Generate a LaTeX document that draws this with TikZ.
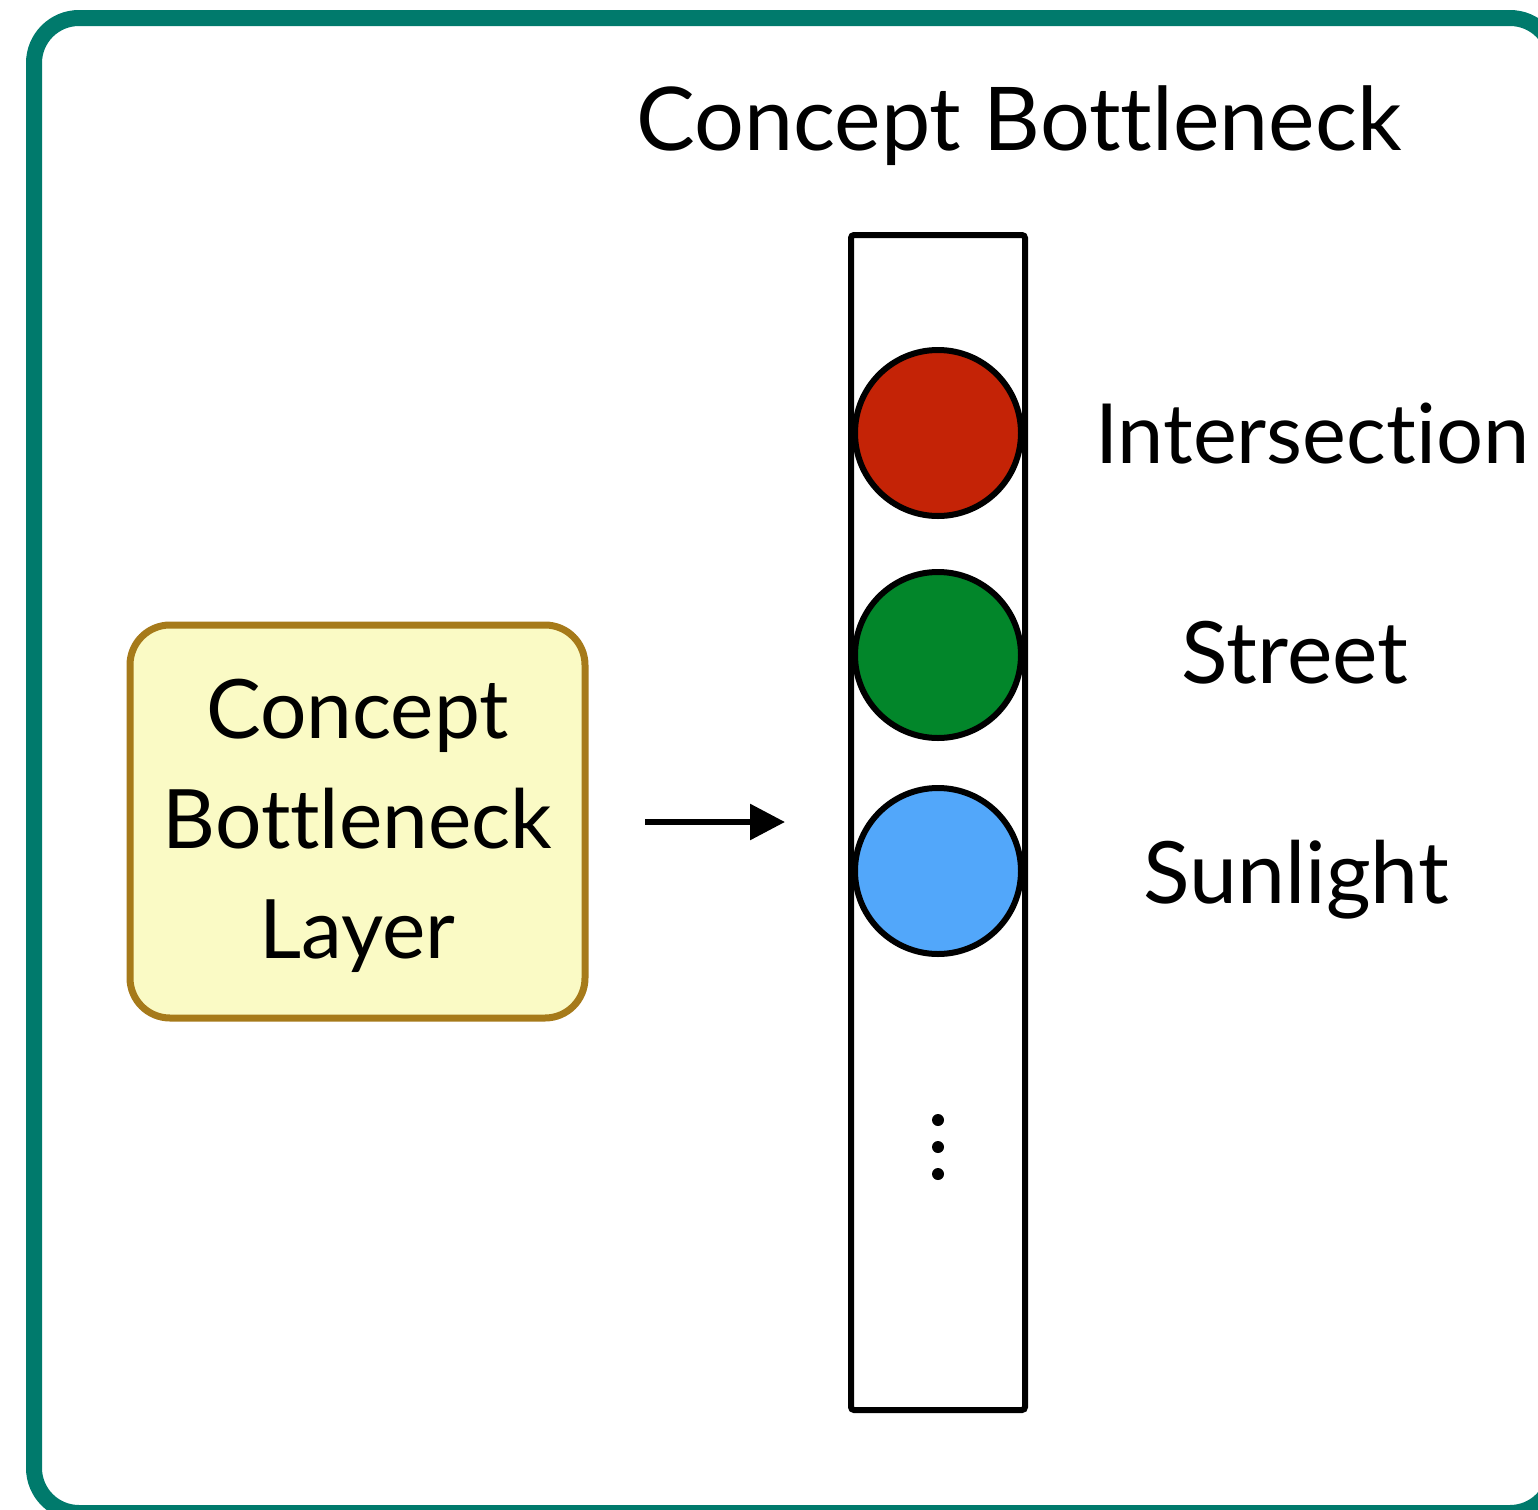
\documentclass[tikz,border=0pt]{standalone}
\usepackage{fontspec}
\setmainfont{Lato}[Ligatures=NoCommon]
\usetikzlibrary{arrows.meta}
\definecolor{frameteal}{RGB}{0,122,108}
\definecolor{boxgold}{RGB}{166,122,26}
\definecolor{boxfill}{RGB}{250,250,197}
\definecolor{cred}{RGB}{196,35,6}
\definecolor{cgreen}{RGB}{2,134,42}
\definecolor{cblue}{RGB}{82,167,250}
\tikzset{
  concept/.style={circle, draw=black, line width=3pt, minimum size=83pt, inner sep=0pt},
  clabel/.style={font=\fontsize{43}{52}\selectfont, anchor=base},
  dotmark/.style={circle, fill=black, minimum size=6pt, inner sep=0pt},
}
\begin{document}
\begin{tikzpicture}[x=0.5pt, y=-0.5pt]
\useasboundingbox (0,0) rectangle (1538,1510);
% outer frame
\draw[frameteal, line width=8pt, rounded corners=22.5pt] (34,18) rectangle (1555,1513);
% title
\node[clabel, font=\fontsize{44}{54}\selectfont] (title) at (1019,150) {Concept Bottleneck};
% input box
\node[draw=boxgold, fill=boxfill, line width=3.5pt, rounded corners=20pt,
      minimum width=227.5pt, minimum height=196.5pt] (cbl) at (357.5,821.5) {};
\node[align=center, font=\fontsize{41}{55}\selectfont] (cbltext) at (357.5,826) {Concept\\Bottleneck\\Layer};
% concept vector
\node[draw=black, line width=3pt, rounded corners=1.5pt, minimum width=87pt, minimum height=587.5pt, inner sep=0pt] (vec) at (938,822.5) {};
\node[concept, fill=cred] (c1) at (938,433) {};
\node[concept, fill=cgreen] (c2) at (938,655) {};
\node[concept, fill=cblue] (c3) at (938,871) {};
\node[dotmark] (d1) at (938,1120) {};
\node[dotmark] (d2) at (938,1147) {};
\node[dotmark] (d3) at (938,1174) {};
% labels
\node[clabel, anchor=base west, font=\fontsize{41.5}{50}\selectfont] (l1) at (1088,463) {Intersection};
\node[clabel] (l2) at (1295,683) {Street};
\node[clabel] (l3) at (1296,903) {Sunlight};
% arrow
\coordinate (as) at (645,822);
\coordinate (ae) at (785,822);
\draw[line width=3pt, -{Triangle[length=17.5pt, width=17.5pt]}] (as) -- (ae);
\end{tikzpicture}
\end{document}
